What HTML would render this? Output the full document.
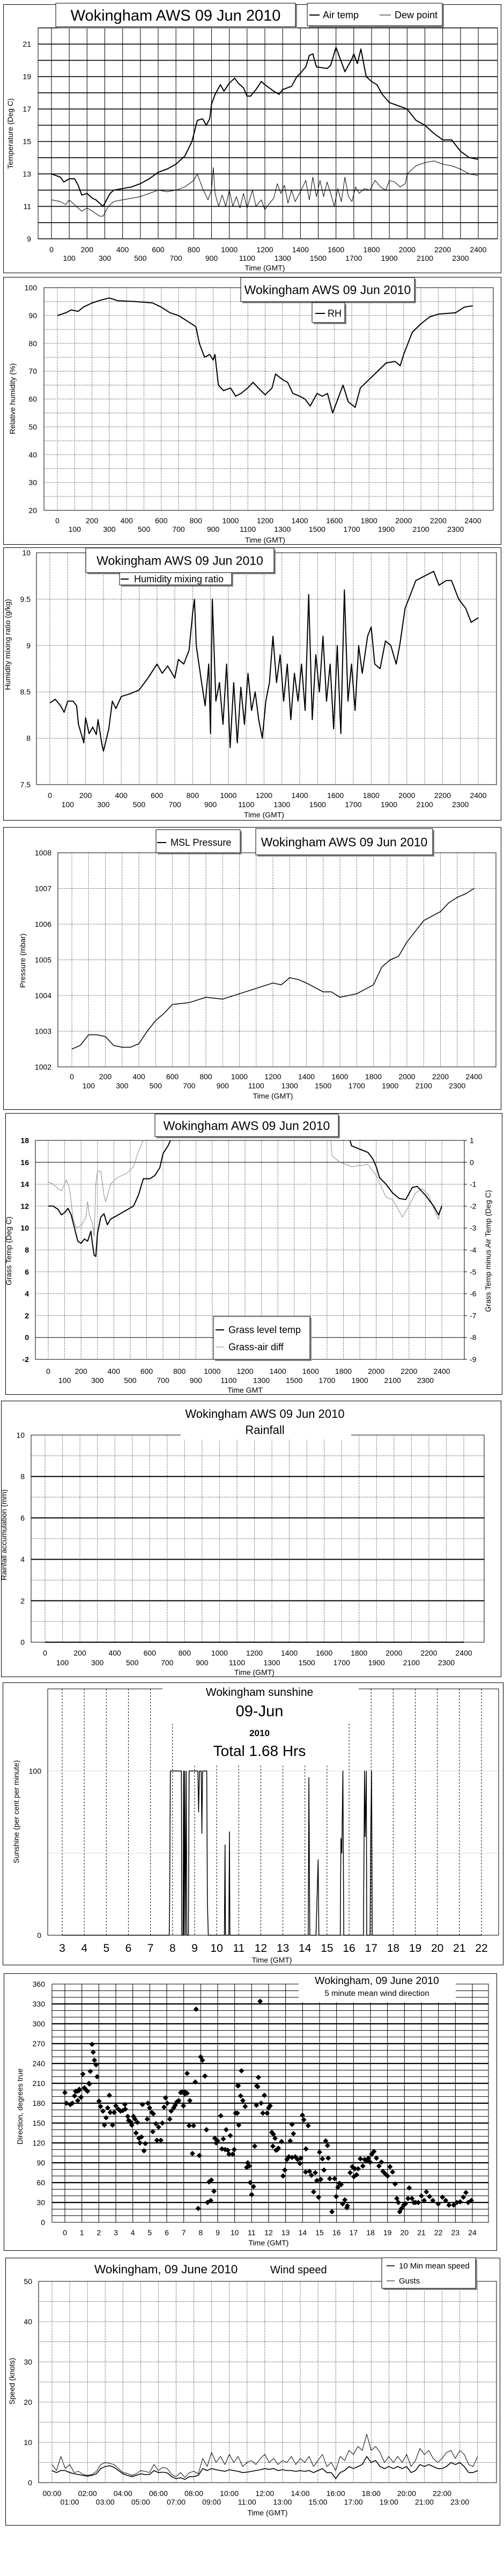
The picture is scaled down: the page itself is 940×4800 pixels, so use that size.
<!DOCTYPE html>
<html><head><meta charset="utf-8"><title>Wokingham AWS 09 Jun 2010</title>
<style>
html,body{margin:0;padding:0;background:#fff;}
svg{display:block;font-family:"Liberation Sans",Arial,sans-serif;}
</style></head>
<body>
<svg id="c" width="940" height="4800" viewBox="0 0 940 4800" xmlns="http://www.w3.org/2000/svg"></svg>
<script>
// ---------- DATA ----------
// Panel 1: air temp & dew point (time hhmm, deg C)
const airT = [0,50,70,100,130,150,170,200,230,250,270,290,300,330,350,400,450,500,550,600,650,700,750,790,820,850,870,890,900,920,950,970,1000,1030,1050,1080,1100,1120,1150,1180,1200,1250,1280,1300,1350,1380,1400,1430,1450,1470,1490,1550,1570,1600,1620,1650,1690,1700,1720,1740,1770,1800,1830,1860,1900,1950,2000,2050,2100,2150,2200,2250,2300,2350,2400];
const airV = [13.0,12.8,12.5,12.7,12.7,12.3,11.7,11.8,11.5,11.4,11.2,11.0,11.2,11.8,12.0,12.1,12.2,12.4,12.7,13.1,13.3,13.6,14.1,15.0,16.3,16.4,16.0,16.4,17.3,17.9,18.5,18.1,18.6,18.9,18.6,18.3,17.8,17.8,18.2,18.7,18.5,18.1,17.9,18.2,18.4,19.0,19.2,19.6,20.3,20.4,19.6,19.5,19.7,20.8,20.2,19.3,20.1,20.4,19.8,20.7,19.0,18.7,18.5,17.9,17.4,17.2,17.0,16.3,16.0,15.5,15.1,15.1,14.4,14.0,13.9];
const dewT = [0,50,80,100,130,150,170,200,230,270,290,320,350,400,450,500,550,600,650,700,750,800,820,850,880,900,910,920,940,960,980,1000,1020,1040,1060,1080,1100,1130,1150,1180,1200,1220,1250,1270,1290,1310,1330,1350,1370,1400,1430,1450,1470,1490,1510,1530,1550,1570,1590,1610,1630,1650,1670,1690,1710,1730,1760,1790,1820,1850,1880,1900,1930,1960,1990,2000,2050,2100,2150,2200,2250,2300,2350,2400];
const dewV = [11.4,11.3,11.1,11.4,11.1,10.9,10.7,10.9,10.7,10.4,10.4,11.0,11.3,11.4,11.5,11.6,11.8,12.0,11.9,12.0,12.2,12.6,13.0,12.1,11.4,12.0,13.4,11.8,11.0,11.7,11.0,12.0,11.0,11.6,10.9,11.8,10.9,12.0,11.0,11.4,10.8,11.1,11.5,12.4,11.8,12.3,11.2,12.0,11.3,11.9,12.6,11.4,12.8,11.6,12.6,11.6,12.5,11.8,11.0,12.1,11.3,12.8,11.6,11.3,12.2,11.8,12.1,12.0,12.6,12.2,12.0,12.6,12.5,12.2,12.4,13.0,13.5,13.7,13.8,13.6,13.5,13.3,13.0,12.9];
// Panel 2: RH
const rhT = [0,50,80,120,150,200,250,300,350,450,550,600,650,700,750,800,820,850,880,900,910,930,960,1000,1030,1060,1100,1130,1160,1200,1240,1260,1300,1330,1360,1400,1430,1460,1500,1530,1560,1590,1620,1650,1680,1700,1720,1750,1800,1850,1900,1950,1980,2000,2050,2100,2150,2200,2300,2350,2400];
const rhV = [90,91,92,91.5,93,94.5,95.5,96.3,95.3,95,94.5,93,91,90,88,86,80,75,76,74,76,65,63,64,61,62,64,66,64,61.5,64,69,67,66,62,61,60,57.5,62,61,62,55,60,65,59,58,57,64,67,70,73,73.5,72,76,84,87,89.5,90.5,91,93,93.5];
// Panel 3: mixing ratio
const mrT = [0,30,60,80,100,130,150,160,180,190,200,220,240,260,270,290,300,330,350,370,400,450,500,550,600,630,660,700,720,750,780,800,810,820,850,870,890,900,910,930,950,970,990,1010,1030,1050,1070,1090,1110,1130,1150,1170,1190,1210,1230,1250,1270,1290,1310,1330,1350,1370,1390,1410,1430,1450,1470,1490,1510,1530,1550,1570,1590,1610,1630,1650,1670,1690,1710,1730,1750,1780,1800,1820,1850,1880,1910,1940,1960,1990,2020,2050,2100,2150,2180,2220,2250,2290,2330,2360,2400];
const mrV = [8.38,8.42,8.35,8.28,8.40,8.40,8.35,8.15,8.02,7.95,8.22,8.05,8.12,8.04,8.20,7.95,7.86,8.10,8.40,8.32,8.45,8.48,8.52,8.65,8.80,8.70,8.78,8.65,8.85,8.80,8.95,9.35,9.50,9.00,8.60,8.35,8.80,8.05,9.50,8.40,8.60,8.15,8.80,7.90,8.60,7.95,8.55,8.15,8.70,8.30,8.50,8.20,8.00,8.40,8.60,9.10,8.60,8.90,8.40,8.80,8.20,8.70,8.40,8.80,8.30,9.55,8.20,8.90,8.50,9.10,8.40,8.80,8.10,9.00,8.05,9.60,8.40,8.80,8.30,9.00,8.70,9.10,9.20,8.80,8.75,9.05,9.00,8.80,9.00,9.40,9.55,9.70,9.75,9.80,9.65,9.70,9.70,9.50,9.40,9.25,9.30];
// Panel 4: MSL pressure
const prT = [0,50,100,150,200,250,300,350,400,450,500,550,600,700,800,900,1000,1100,1200,1250,1300,1350,1400,1500,1550,1600,1650,1700,1800,1850,1900,1950,2000,2100,2200,2250,2300,2350,2400];
const prV = [1002.5,1002.6,1002.9,1002.9,1002.85,1002.6,1002.55,1002.55,1002.65,1003.0,1003.3,1003.5,1003.75,1003.8,1003.95,1003.9,1004.05,1004.2,1004.35,1004.3,1004.5,1004.45,1004.35,1004.1,1004.1,1003.95,1004.0,1004.05,1004.3,1004.8,1005.0,1005.1,1005.5,1006.1,1006.35,1006.6,1006.75,1006.85,1007.0];
// Panel 5: grass temp (left axis) and grass-air diff (right axis)
const grT = [0,30,60,80,100,120,140,160,180,200,220,240,260,270,280,290,300,320,340,360,380,450,520,550,580,620,650,680,700,730,760,790,1800,1830,1850,1900,1950,1980,2000,2020,2060,2100,2140,2180,2220,2250,2300,2350,2380,2400];
const grV = [12.0,12.0,11.7,11.2,11.4,11.8,11.2,10.0,8.8,8.6,9.0,8.8,9.7,8.5,7.5,7.4,9.5,11.0,11.3,10.3,10.8,11.4,12.0,13.0,14.5,14.5,14.8,15.5,16.8,17.5,18.5,19.5,19.5,18.5,17.5,17.2,16.9,16.3,15.6,14.6,14.0,13.2,12.7,12.6,13.7,13.8,13.0,12.0,11.2,12.0];
const dfT = [0,30,60,80,100,110,130,150,170,200,230,240,250,270,280,290,300,320,340,350,380,420,480,520,550,580,600,1700,1724,1730,1780,1850,1900,1950,2000,2030,2060,2100,2130,2160,2200,2240,2280,2320,2360,2380,2400];
const dfV = [-0.9,-1.0,-1.2,-1.3,-1.0,-0.8,-1.2,-2.5,-3.0,-2.9,-2.5,-1.8,-2.4,-2.8,-3.4,-1.0,-0.4,-0.4,-1.5,-1.8,-1.0,-0.7,-0.5,-0.2,0.5,1.0,1.5,1.5,1.0,0.3,0.0,-0.2,-0.15,-0.1,-0.6,-1.1,-1.6,-1.7,-2.1,-2.5,-2.0,-1.4,-1.2,-1.5,-2.3,-2.6,-1.9];
// Panel 6: rainfall accumulation
const rainT = [0,2400];
const rainV = [0,0];
// Panel 7: sunshine (hours, percent per minute)
const sunT = [3,7.85,7.87,7.9,8.4,8.42,8.48,8.5,8.52,8.55,8.58,8.62,8.65,8.72,8.75,9.15,9.18,9.22,9.3,9.33,9.36,9.55,9.58,9.62,10.35,10.38,10.4,10.55,10.58,10.6,14.15,14.18,14.22,14.5,14.6,14.63,15.6,15.63,15.67,15.72,15.76,16.65,16.7,16.73,16.78,16.8,16.95,16.98,17.02,17.05,22];
const sunV = [0,0,20,100,100,0,0,100,0,100,0,100,0,0,100,100,75,100,100,62,100,100,20,0,0,55,0,0,63,0,0,96,0,0,46,0,0,59,50,100,0,0,100,60,100,0,0,60,100,0,0];
// Panel 8: wind direction (hours, degrees)
const dirH = [0,0.09,0.32,0.44,0.57,0.72,0.85,0.76,0.95,1.14,1.33,1.44,2.01,2.10,2.24,2.33,2.43,2.52,2.62,2.67,2.81,2.90,3.0,3.15,3.28,3.41,3.53,3.56,3.70,3.75,3.85,3.94,4.04,4.13,4.19,4.27,4.36,4.42,4.51,4.66,4.74,4.57,4.85,4.89,4.99,5.12,5.21,5.18,5.36,5.42,5.52,5.65,5.74,5.84,5.93,6.03,6.18,6.26,6.41,6.50,6.60,6.71,6.82,6.98,7.07,7.20,7.36,7.32,7.51,7.58,7.92,8.34,8.49,8.63,8.59,8.40,7.85,8.78,8.83,8.91,9.0,9.18,9.25,9.33,9.50,9.44,9.59,9.67,9.74,9.88,9.97,10.05,10.16,10.20,10.24,10.35,10.48,10.62,10.71,10.77,10.86,10.92,11.0,11.11,11.18,11.28,11.36,11.56,11.66,11.75,11.91,12.0,12.09,12.19,12.28,12.38,12.44,12.51,12.57,12.76,12.25,12.85,12.95,13.08,13.19,13.27,13.38,13.46,13.38,13.57,13.71,13.84,13.90,13.99,14.07,14.20,14.33,14.18,14.41,14.52,14.65,14.75,14.84,14.94,15.0,15.07,15.17,15.26,15.36,15.47,15.51,15.60,15.73,15.89,15.98,16.08,16.17,16.27,16.36,16.49,16.61,16.64,16.80,16.93,17.02,17.08,17.18,17.27,17.40,17.55,17.65,17.78,17.88,17.97,18.07,18.20,18.35,18.50,18.64,18.73,18.88,19.01,19.15,19.30,19.45,19.55,19.64,19.72,19.83,19.96,20.06,20.21,20.28,20.44,20.55,20.66,20.82,21.0,21.16,21.29,21.48,21.67,21.99,22.24,22.43,22.62,22.90,23.09,23.28,23.47,23.62,23.75,23.94,7.73,11.5,1.6,1.67,1.74,1.84,1.9,1.06,1.5,1.42,1.16,1.25,0.82,0.63,7.2,7.68,8.0,8.1,8.25,6.9,7.07,10.2,10.4,11.4,11.3];
const dirV = [196,180,178,180,191,198,201,184,189,203,198,209,183,175,168,147,158,173,192,166,147,166,176,171,168,169,178,171,160,154,152,147,160,156,135,151,127,120,129,108,119,178,156,180,173,166,164,137,149,124,144,124,150,174,188,180,156,168,173,177,182,184,196,176,194,195,184,146,104,146,101,140,61,64,33,30,21,47,127,120,123,161,111,126,140,110,109,103,131,103,110,165,165,206,147,191,184,175,83,90,85,60,42,54,115,177,205,180,165,192,165,173,176,136,133,127,109,110,112,122,115,70,79,95,99,123,148,134,98,99,95,89,97,162,155,111,146,76,77,71,46,75,63,38,106,65,96,79,123,116,97,66,16,66,39,53,59,57,28,34,22,25,75,84,69,81,72,81,96,85,95,93,97,91,103,107,97,85,91,77,73,70,84,76,58,36,30,16,21,26,28,36,52,36,30,30,30,40,33,46,39,33,28,38,33,26,26,30,31,38,45,30,33,322,334,269,257,245,238,220,224,228,210,203,200,199,198,225,212,250,245,221,197,197,207,229,219,206];
// Panel 9: wind speed (hours, knots)
const spdH = [0,0.25,0.5,0.75,1,1.25,1.5,1.75,2,2.25,2.5,2.75,3,3.25,3.5,3.75,4,4.25,4.5,4.75,5,5.25,5.5,5.75,6,6.25,6.5,6.75,7,7.25,7.5,7.75,8,8.25,8.5,8.75,9,9.25,9.5,9.75,10,10.25,10.5,10.75,11,11.25,11.5,11.75,12,12.25,12.5,12.75,13,13.25,13.5,13.75,14,14.25,14.5,14.75,15,15.25,15.5,15.75,16,16.25,16.5,16.75,17,17.25,17.5,17.75,18,18.25,18.5,18.75,19,19.25,19.5,19.75,20,20.25,20.5,20.75,21,21.25,21.5,21.75,22,22.25,22.5,22.75,23,23.25,23.5,23.75,24];
const gustV = [4.5,3,6.5,3.5,4.5,2.5,2.8,2.0,1.8,2,2.8,4.5,5,4.8,4.5,3.5,2.5,2.3,1.8,2.2,3.0,2.8,2.5,4.5,3.0,3.8,3.5,2.0,1.5,2.5,1.3,2.5,2.8,2.2,6,4,7.5,5,6.5,4.5,7,5,6.5,4,5,5.5,4.5,6,7,5,6,4.5,5.5,5,6.5,4.5,6,5,6.5,4,5.5,7,4,5,3,6.5,5.5,8,7,9,8,12,8,9,7.5,5,6.5,5,6.5,5,7,4,5.5,8.5,7,8,6,5,6,7.5,8,6,8,7,4.5,4,6.5];
const meanV = [3.0,2.5,3.0,3.0,2.5,2.2,2.0,1.8,1.6,1.8,2.2,3.5,4,4.2,3.8,3.0,2.2,1.8,1.5,1.8,2.2,2.0,2.0,3.0,2.5,2.6,2.4,1.5,1.0,1.2,0.8,1.5,1.5,1.8,3.5,3.0,3.5,3.2,3.0,2.8,3.2,3.0,2.8,2.5,2.6,2.8,3.0,3.2,3.5,3.3,3.5,3.0,3.2,3.0,3.0,2.8,3.0,2.8,3.0,2.5,3.0,3.5,2.5,2.5,1.0,2.5,3.0,4.0,3.5,4.0,4.5,6.5,5.0,5.5,4.0,3.5,4.0,3.5,4.0,3.5,4.0,2.5,3.0,4.5,4.0,4.5,4.0,3.5,3.5,4.0,5.0,4.5,5.0,4.0,2.5,2.5,3.0];

// ---------- HELPERS ----------
const NS = 'http://www.w3.org/2000/svg';
const svg = document.getElementById('c');
function mk(tag, attrs, name, parent) {
  const e = document.createElementNS(NS, tag);
  for (const k in attrs) e.setAttribute(k, attrs[k]);
  
  
  (parent || svg).appendChild(e);
  return e;
}
function txt(x, y, s, size, anchor, name, extra, parent) {
  const a = {x: x, y: y, 'font-size': size, 'text-anchor': anchor || 'start', fill: '#000'};
  if (extra) for (const k in extra) a[k] = extra[k];
  const e = mk('text', a, name, parent);
  e.textContent = s;
  return e;
}
function ln(x1, y1, x2, y2, w, name, dash, color, parent) {
  const a = {x1: x1, y1: y1, x2: x2, y2: y2, stroke: color || '#000', 'stroke-width': w};
  if (dash) a['stroke-dasharray'] = dash;
  return mk('line', a, name, parent);
}
function rct(x, y, w, h, name, fill, stroke, sw, parent) {
  return mk('rect', {x: x, y: y, width: w, height: h, fill: fill || 'none', stroke: stroke || 'none', 'stroke-width': sw || 1}, name, parent);
}
function scale(p0, v0, p1, v1) { return v => p0 + (v - v0) * (p1 - p0) / (v1 - v0); }
function clip(id, x, y, w, h) {
  const cp = mk('clipPath', {id: id}, id);
  mk('rect', {x: x, y: y, width: w, height: h}, id + '-rect', cp);
  return 'url(#' + id + ')';
}
function series(xs, ys, X, Y, w, color, name, clipUrl) {
  let d = '';
  for (let i = 0; i < xs.length; i++) d += (i ? 'L' : 'M') + X(xs[i]).toFixed(1) + ' ' + Y(ys[i]).toFixed(1);
  const a = {d: d, fill: 'none', stroke: color, 'stroke-width': w, 'stroke-linejoin': 'round'};
  if (clipUrl) a['clip-path'] = clipUrl;
  return mk('path', a, name);
}
function titleBox(x, y, w, h, s, size, name) {
  rct(x + 3, y + 3, w, h, name + '-shadow', '#888');
  rct(x, y, w, h, name + '-box', '#fff', '#000', 1);
  txt(x + w / 2, y + h / 2 + size * 0.36, s, size, 'middle', name);
}
function hundredLabels(X, y1, y2, ty, tlabel, pname) {
  for (let v = 0; v <= 2400; v += 100) {
    const even = (v / 100) % 2 === 0;
    txt(X(v), even ? y1 : y2, String(v), 14, 'middle', pname + '-x-tick-' + v);
  }
  txt((X(0) + X(2400)) / 2, ty, tlabel, 14, 'middle', pname + '-x-axis-title');
}
function yTitle(x, y, s, name, size) {
  txt(x, y, s, size || 14, 'middle', name, {transform: 'rotate(-90 ' + x + ' ' + y + ')'});
}

// ---------- PANEL 1: temperature ----------
(function () {
  const P = {l: 71, r: 928, t: 52, b: 445};
  rct(6.5, 8.5, 928, 500, 'temperature-panel', '#fff', '#000');
  const X = scale(96, 0, 892, 2400), Y = scale(445, 9, 52, 22);
  for (let v = 9; v <= 22; v++) ln(P.l, Y(v), P.r, Y(v), 1.6, 'temp-gridline-h');
  for (let v = 0; v <= 2400; v += 100) ln(X(v), P.t, X(v), P.b, 1, 'temp-gridline-v');
  rct(P.l, P.t, P.r - P.l, P.b - P.t, 'temp-plot-area', 'none', '#000', 1);
  for (let v = 9; v <= 21; v += 2) txt(58, Y(v) + 5, String(v), 14, 'end', 'temp-y-tick-' + v);
  hundredLabels(X, 470, 486, 504, 'Time (GMT)', 'temp');
  yTitle(24, 249, 'Temperature (Deg C)', 'temp-y-axis-title');
  const cp = clip('clip1', P.l, P.t, P.r - P.l, P.b - P.t);
  series(dewT, dewV, X, Y, 1, '#000', 'dew-point-line', cp);
  series(airT, airV, X, Y, 2, '#000', 'air-temp-line', cp);
  titleBox(104, 6, 447, 44, 'Wokingham AWS 09 Jun 2010', 29, 'temp-chart-title');
  rct(576, 9, 252, 42, 'temp-legend-shadow', '#888');
  rct(573, 6, 252, 42, 'temp-legend', '#fff', '#000');
  ln(577, 28, 596, 28, 2, 'legend-air-temp-swatch');
  txt(602, 34, 'Air temp', 18, 'start', 'legend-air-temp');
  ln(708, 28, 729, 28, 1, 'legend-dew-point-swatch');
  txt(736, 34, 'Dew point', 18, 'start', 'legend-dew-point');
})();

// ---------- PANEL 2: RH ----------
(function () {
  const P = {l: 82, r: 920, t: 536, b: 951};
  rct(6.5, 516.5, 928, 498, 'humidity-panel', '#fff', '#000');
  const X = scale(107, 0, 882, 2400), Y = scale(951, 20, 536, 100);
  for (let v = 25; v < 100; v += 5) ln(P.l, Y(v), P.r, Y(v), 1, 'rh-gridline-h', '1,2');
  for (let v = 0; v <= 2400; v += 100) ln(X(v), P.t, X(v), P.b, 1, 'rh-gridline-v', '1,2');
  rct(P.l, P.t, P.r - P.l, P.b - P.t, 'rh-plot-area', 'none', '#000', 1);
  for (let v = 20; v <= 100; v += 10) txt(69, Y(v) + 5, String(v), 14, 'end', 'rh-y-tick-' + v);
  hundredLabels(X, 975, 991, 1011, 'Time (GMT)', 'rh');
  yTitle(28, 743, 'Relative humidity (%)', 'rh-y-axis-title');
  const cp = clip('clip2', P.l, P.t, P.r - P.l, P.b - P.t);
  series(rhT, rhV, X, Y, 2, '#000', 'rh-line', cp);
  titleBox(449, 517, 324, 45, 'Wokingham AWS 09 Jun 2010', 23, 'rh-chart-title');
  rct(585, 567, 61, 37, 'rh-legend-shadow', '#888');
  rct(582, 564, 61, 37, 'rh-legend', '#fff', '#000');
  ln(588, 584, 606, 584, 2, 'legend-rh-swatch');
  txt(611, 590, 'RH', 18, 'start', 'legend-rh');
})();

// ---------- PANEL 3: mixing ratio ----------
(function () {
  const P = {l: 68, r: 926, t: 1030, b: 1462};
  rct(6.5, 1020.5, 928, 508, 'mixing-ratio-panel', '#fff', '#000');
  const X = scale(93, 0, 892, 2400), Y = scale(1462, 7.5, 1030, 10);
  for (let v = 8; v < 10; v += 0.5) ln(P.l, Y(v), P.r, Y(v), 1, 'mr-gridline-h', '1,2');
  for (let v = 0; v <= 2400; v += 100) ln(X(v), P.t, X(v), P.b, 1, 'mr-gridline-v', '1,2');
  rct(P.l, P.t, P.r - P.l, P.b - P.t, 'mr-plot-area', 'none', '#000', 1);
  const mrTicks = ['7.5', '8', '8.5', '9', '9.5', '10'];
  for (const s of mrTicks) txt(57, Y(parseFloat(s)) + 5, s, 14, 'end', 'mr-y-tick');
  hundredLabels(X, 1487, 1504, 1523, 'Time (GMT)', 'mr');
  yTitle(19, 1201, 'Humidity mixing ratio (g/kg)', 'mr-y-axis-title');
  const cp = clip('clip3', P.l, P.t, P.r - P.l, P.b - P.t);
  series(mrT, mrV, X, Y, 2, '#000', 'mixing-ratio-line', cp);
  titleBox(160, 1021, 351, 46, 'Wokingham AWS 09 Jun 2010', 23, 'mr-chart-title');
  rct(226, 1070, 209, 23, 'mr-legend-shadow', '#888');
  rct(223, 1067, 209, 23, 'mr-legend', '#fff', '#000');
  ln(225, 1079, 240, 1079, 2, 'legend-mr-swatch');
  txt(250, 1085, 'Humidity mixing ratio', 18, 'start', 'legend-mixing-ratio');
})();

// ---------- PANEL 4: pressure ----------
(function () {
  const P = {l: 108, r: 925, t: 1589, b: 1988};
  rct(6.5, 1541.5, 928, 526, 'pressure-panel', '#fff', '#000');
  const X = scale(134, 0, 884, 2400), Y = scale(1988, 1002, 1589, 1008);
  for (let v = 1003; v < 1008; v++) ln(P.l, Y(v), P.r, Y(v), 1, 'pr-gridline-h', '1,2');
  for (let v = 0; v <= 2400; v += 100) ln(X(v), P.t, X(v), P.b, 1, 'pr-gridline-v', '1,2');
  rct(P.l, P.t, P.r - P.l, P.b - P.t, 'pr-plot-area', 'none', '#000', 1);
  for (let v = 1002; v <= 1008; v++) txt(96, Y(v) + 5, String(v), 14, 'end', 'pr-y-tick-' + v);
  hundredLabels(X, 2011, 2028, 2047, 'Time (GMT)', 'pr');
  yTitle(47, 1790, 'Pressure (mbar)', 'pr-y-axis-title');
  const cp = clip('clip4', P.l, P.t, P.r - P.l, P.b - P.t);
  series(prT, prV, X, Y, 1.5, '#000', 'pressure-line', cp);
  titleBox(477, 1544, 330, 49, 'Wokingham AWS 09 Jun 2010', 23, 'pr-chart-title');
  rct(294, 1549, 157, 43, 'pr-legend-shadow', '#888');
  rct(291, 1546, 157, 43, 'pr-legend', '#fff', '#000');
  ln(293, 1570, 310, 1570, 2, 'legend-pressure-swatch');
  txt(318, 1576, 'MSL Pressure', 18, 'start', 'legend-pressure');
})();

// ---------- PANEL 5: grass temp ----------
(function () {
  const P = {l: 66, r: 866, t: 2125, b: 2533};
  rct(10.5, 2074.5, 926, 524, 'grass-panel', '#fff', '#000');
  const X = scale(90, 0, 824, 2400), Y = scale(2533, -2, 2125, 18), YR = scale(2533, -9, 2125, 1);
  for (let v = 0; v < 18; v += 2) ln(P.l, Y(v), P.r, Y(v), 1, 'grass-gridline-h', (v === 16 || v === 0) ? null : '1,2');
  for (let v = 0; v <= 2400; v += 100) ln(X(v), P.t, X(v), P.b, 1, 'grass-gridline-v', '1,2');
  rct(P.l, P.t, P.r - P.l, P.b - P.t, 'grass-plot-area', 'none', '#000', 1);
  for (let v = -2; v <= 18; v += 2) txt(54, Y(v) + 5, String(v), 14, 'end', 'grass-y-tick-' + v, {'font-weight': 'bold'});
  for (let v = -9; v <= 1; v++) { ln(P.r, YR(v), P.r + 5, YR(v), 1, 'grass-right-tick'); txt(876, YR(v) + 5, String(v), 14, 'start', 'diff-y-tick-' + v); }
  hundredLabels(X, 2560, 2577, 2595, 'Time GMT', 'grass');
  yTitle(21, 2331, 'Grass Temp (Deg C)', 'grass-y-axis-title');
  yTitle(915, 2331, 'Grass Temp minus Air Temp (Deg C)', 'diff-y-axis-title');
  const cp = clip('clip5', P.l, P.t, P.r - P.l, P.b - P.t);
  series(dfT, dfV, X, YR, 1, '#888', 'grass-air-diff-line', cp);
  series(grT, grV, X, Y, 2, '#000', 'grass-temp-line', cp);
  titleBox(289, 2076, 342, 42, 'Wokingham AWS 09 Jun 2010', 23, 'grass-chart-title');
  rct(401, 2456, 180, 80, 'grass-legend-shadow', '#888');
  rct(398, 2453, 180, 80, 'grass-legend', '#fff', '#000');
  ln(402, 2478, 418, 2478, 2, 'legend-grass-temp-swatch');
  txt(426, 2484, 'Grass level temp', 18, 'start', 'legend-grass-temp');
  ln(402, 2510, 418, 2510, 1, 'legend-diff-swatch', null, '#888');
  txt(426, 2516, 'Grass-air diff', 18, 'start', 'legend-grass-air-diff');
})();

// ---------- PANEL 6: rainfall ----------
(function () {
  const P = {l: 58, r: 903, t: 2674, b: 3060};
  rct(2.5, 2610.5, 932, 514, 'rainfall-panel', '#fff', '#000');
  const X = scale(84, 0, 865, 2400), Y = scale(3060, 0, 2674, 10);
  for (let v = 1; v < 10; v++) ln(P.l, Y(v), P.r, Y(v), v % 2 ? 1 : 2, 'rain-gridline-h', v % 2 ? '1,2' : null);
  for (let v = 0; v <= 2400; v += 100) ln(X(v), P.t, X(v), P.b, 1, 'rain-gridline-v', '1,2');
  rct(P.l, P.t, P.r - P.l, P.b - P.t, 'rain-plot-area', 'none', '#000', 1);
  rct(337, 2640, 318, 41, 'rain-title-mask', '#fff');
  for (let v = 0; v <= 10; v += 2) txt(46, Y(v) + 5, String(v), 14, 'end', 'rain-y-tick-' + v);
  hundredLabels(X, 3085, 3103, 3121, 'Time (GMT)', 'rain');
  yTitle(12, 2860, 'Rainfall accumulation (mm)', 'rain-y-axis-title');
  series(rainT, rainV, X, Y, 2, '#000', 'rainfall-line');
  txt(494, 2642, 'Wokingham AWS 09 Jun 2010', 22, 'middle', 'rain-chart-title');
  txt(494, 2672, 'Rainfall', 22, 'middle', 'rain-chart-subtitle');
})();

// ---------- PANEL 7: sunshine ----------
(function () {
  const P = {l: 89, r: 930, t: 3147, b: 3606};
  rct(5.5, 3135.5, 933, 526, 'sunshine-panel', '#fff', '#000');
  const X = scale(116, 3, 898, 22), Y = scale(3606, 0, 3300, 100);
  ln(P.l, Y(50), P.r, Y(50), 1, 'sun-gridline-h', '1,2', '#999');
  ln(P.l, Y(100), P.r, Y(100), 1, 'sun-gridline-h', '1,2', '#999');
  for (let h = 3; h <= 22; h++) {
    const top = (h >= 9 && h <= 15) ? 3290 : ((h === 8 || h === 16) ? 3212 : P.t);
    ln(X(h), top, X(h), P.b, 1, 'sun-gridline-v', '3,3');
  }
  ln(P.l, P.t, 303, P.t, 1, 'sun-plot-top-left');
  ln(669, P.t, P.r, P.t, 1, 'sun-plot-top-right');
  ln(P.l, P.t, P.l, P.b, 1, 'sun-plot-left');
  ln(P.r, P.t, P.r, P.b, 1, 'sun-plot-right');
  ln(P.l, P.b, P.r, P.b, 1, 'sun-plot-bottom');
  txt(77, Y(100) + 5, '100', 14, 'end', 'sun-y-tick-100');
  txt(77, Y(0) + 5, '0', 14, 'end', 'sun-y-tick-0');
  for (let h = 3; h <= 22; h++) txt(X(h), 3637, String(h), 21, 'middle', 'sun-x-tick-' + h);
  txt(507, 3657, 'Time (GMT)', 14, 'middle', 'sun-x-axis-title');
  yTitle(35, 3376, 'Sunshine (per cent per minute)', 'sun-y-axis-title');
  series(sunT, sunV, X, Y, 1.5, '#000', 'sunshine-line');
  txt(484, 3160, 'Wokingham sunshine', 21, 'middle', 'sun-chart-title');
  txt(484, 3198, '09-Jun', 29, 'middle', 'sun-chart-date');
  txt(484, 3235, '2010', 17, 'middle', 'sun-chart-year', {'font-weight': 'bold'});
  txt(484, 3272, 'Total 1.68 Hrs', 28, 'middle', 'sun-chart-total');
})();

// ---------- PANEL 8: wind direction ----------
(function () {
  const P = {l: 97, r: 911, t: 3697, b: 4141};
  rct(7.5, 3677.5, 919, 516, 'wind-direction-panel', '#fff', '#000');
  const X = scale(121, 0, 881, 24), Y = scale(4141, 0, 3697, 360);
  for (let v = 10; v < 360; v += 10) ln(P.l, Y(v), P.r, Y(v), v % 30 === 0 ? 2.2 : 1, 'dir-gridline-h');
  for (let h = 0; h <= 24; h++) ln(X(h), P.t, X(h), P.b, 1, 'dir-gridline-v');
  rct(P.l, P.t, P.r - P.l, P.b - P.t, 'dir-plot-area', 'none', '#000', 1);
  rct(557, P.t - 1, 293, 3733 - P.t - 1, 'dir-title-mask', '#fff');
  for (let v = 0; v <= 360; v += 30) txt(84, Y(v) + 5, String(v), 14, 'end', 'dir-y-tick-' + v);
  for (let h = 0; h <= 24; h++) txt(X(h), 4165, String(h), 14, 'middle', 'dir-x-tick-' + h);
  txt(501, 4184, 'Time (GMT)', 14, 'middle', 'dir-x-axis-title');
  yTitle(42, 3925, 'Direction, degrees true', 'dir-y-axis-title');
  for (let i = 0; i < dirH.length; i++) {
    const cx = X(dirH[i]), cy = Y(dirV[i]);
    mk('path', {d: 'M' + cx + ' ' + (cy - 5) + 'L' + (cx + 5) + ' ' + cy + 'L' + cx + ' ' + (cy + 5) + 'L' + (cx - 5) + ' ' + cy + 'Z', fill: '#000'}, 'wind-direction-point');
  }
  txt(703, 3697, 'Wokingham,  09 June 2010', 19.5, 'middle', 'dir-chart-title');
  txt(703, 3719, '5 minute mean wind direction', 15, 'middle', 'dir-chart-subtitle');
})();

// ---------- PANEL 9: wind speed ----------
(function () {
  const P = {l: 72, r: 926, t: 4251, b: 4626};
  rct(10.5, 4207.5, 922, 498, 'wind-speed-panel', '#fff', '#000');
  const X = scale(97, 0, 130.07, 1), Y = scale(4626, 0, 4251, 50);
  for (let v = 5; v < 50; v += 5) ln(P.l, Y(v), P.r, Y(v), 1, 'spd-gridline-h', '1,2');
  for (let h = 0; h <= 24; h++) ln(X(h), P.t, X(h), P.b, 1, 'spd-gridline-v', '1,2');
  rct(P.l, P.t, P.r - P.l, P.b - P.t, 'spd-plot-area', 'none', '#000', 1);
  for (let v = 0; v <= 50; v += 10) txt(60, Y(v) + 5, String(v), 14, 'end', 'spd-y-tick-' + v);
  const hourLabels = ['00:00','01:00','02:00','03:00','04:00','05:00','06:00','07:00','08:00','09:00','10:00','11:00','12:00','13:00','14:00','15:00','16:00','17:00','18:00','19:00','20:00','21:00','22:00','23:00'];
  for (let h = 0; h < 24; h++) txt(X(h), h % 2 ? 4667 : 4651, hourLabels[h], 14, 'middle', 'spd-x-tick-' + h);
  txt(499, 4687, 'Time (GMT)', 14, 'middle', 'spd-x-axis-title');
  yTitle(27, 4437, 'Speed (knots)', 'spd-y-axis-title');
  const cp = clip('clip9', P.l, P.t, P.r - P.l, P.b - P.t);
  series(spdH, gustV, X, Y, 1, '#000', 'gusts-line', cp);
  series(spdH, meanV, X, Y, 1.6, '#000', 'mean-speed-line', cp);
  txt(176, 4236, 'Wokingham,  09 June 2010', 22.5, 'start', 'spd-chart-title');
  txt(504, 4236, 'Wind speed', 20, 'start', 'spd-chart-subtitle');
  rct(715, 4210, 175, 57, 'spd-legend-shadow', '#888');
  rct(712, 4207, 175, 57, 'spd-legend', '#fff', '#000');
  ln(721, 4222, 736, 4222, 1.6, 'legend-mean-swatch');
  txt(744, 4227, '10 Min mean speed', 15, 'start', 'legend-mean-speed');
  ln(721, 4250, 736, 4250, 1, 'legend-gusts-swatch');
  txt(744, 4255, 'Gusts', 15, 'start', 'legend-gusts');
})();
</script>
</body></html>
